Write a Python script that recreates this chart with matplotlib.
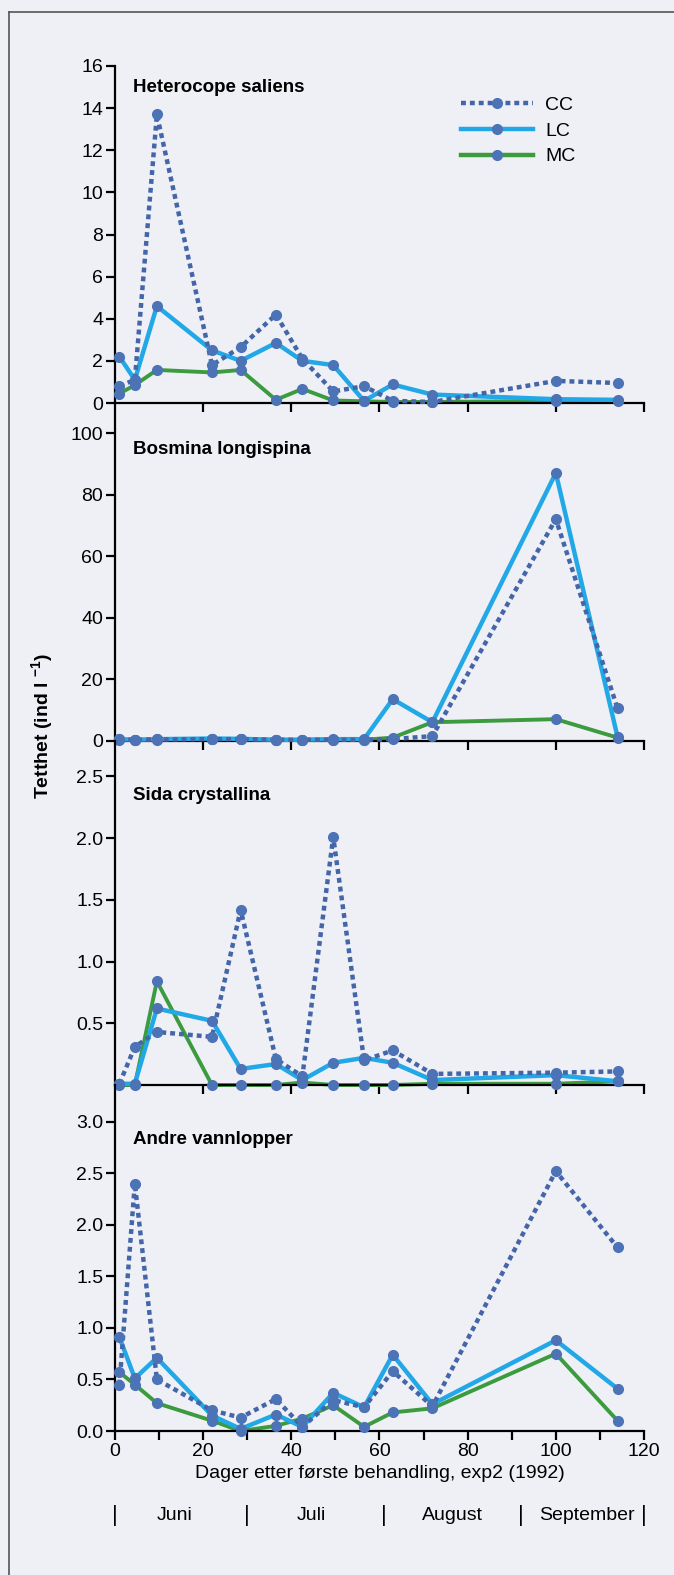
import numpy as np
import matplotlib
matplotlib.use("Agg")
import matplotlib.pyplot as plt
from matplotlib.lines import Line2D

plt.rcParams['font.family'] = ['Liberation Sans', 'DejaVu Sans']
plt.rcParams['mathtext.fontset'] = 'custom'
plt.rcParams['mathtext.rm'] = 'Liberation Sans'
plt.rcParams['mathtext.bf'] = 'Liberation Sans:bold'

# dager etter første behandling
dager = [1, 4.5, 9.5, 22, 28.5, 36.5, 42.5, 49.5, 56.5, 63, 72, 100, 114]

# Heterocope saliens
het_cc = [0.8, 1.1, 13.7, 1.8, 2.65, 4.2, 2.1, 0.55, 0.8, 0.1, 0.05, 1.05, 0.95]
het_lc = [2.2, 1.1, 4.6, 2.5, 2.0, 2.85, 2.0, 1.8, 0.1, 0.88, 0.4, 0.18, 0.15]
het_mc = [0.45, 0.85, 1.57, 1.45, 1.57, 0.15, 0.67, 0.12, 0.08, 0.05, 0.05, 0.1, 0.1]

# Bosmina longispina
bos_cc = [0.4, 0.3, 0.4, 0.5, 0.5, 0.3, 0.3, 0.3, 0.3, 0.5, 1.5, 72, 10.5]
bos_lc = [0.5, 0.3, 0.5, 0.7, 0.6, 0.3, 0.3, 0.5, 0.5, 13.5, 6.0, 87, 1.2]
bos_mc = [0.3, 0.3, 0.3, 0.4, 0.4, 0.3, 0.3, 0.3, 0.3, 1.0, 6.0, 7.0, 1.0]

# Sida crystallina
sida_cc = [0.01, 0.31, 0.43, 0.39, 1.42, 0.21, 0.07, 2.01, 0.2, 0.28, 0.09, 0.1, 0.11]
sida_lc = [0.01, 0.01, 0.62, 0.52, 0.13, 0.17, 0.04, 0.18, 0.22, 0.18, 0.04, 0.08, 0.03]
sida_mc = [0.0, 0.0, 0.84, 0.0, 0.0, 0.0, 0.02, 0.0, 0.0, 0.0, 0.01, 0.01, 0.03]

# Andre vannlopper
andre_cc = [0.45, 2.4, 0.5, 0.2, 0.13, 0.31, 0.04, 0.3, 0.23, 0.58, 0.24, 2.52, 1.78]
andre_lc = [0.91, 0.51, 0.71, 0.15, 0.02, 0.16, 0.04, 0.37, 0.23, 0.74, 0.26, 0.88, 0.41]
andre_mc = [0.57, 0.45, 0.27, 0.1, 0.0, 0.05, 0.12, 0.25, 0.04, 0.18, 0.22, 0.75, 0.1]

titler = ["Heterocope saliens", "Bosmina longispina", "Sida crystallina", "Andre vannlopper"]
maaneder = ["Juni", "Juli", "August", "September"]
maaned_midt = [13.5, 44.5, 76.5, 107]
maaned_grenser = [0, 30, 61, 92, 120]

bg = '#eff0f6'
farge_cc = '#4466a8'
farge_lc = '#22a8e6'
farge_mc = '#3b9b3e'
farge_pkt = '#4c73b6'

W, H = 674, 1575
fig = plt.figure(figsize=(W / 100, H / 100), dpi=100, facecolor=bg)

venstre = 115 / W
bredde = (644 - 115) / W
# (topp, bunn) i piksler
paneler = [(66, 403), (403, 740.7), (740.7, 1085), (1085, 1431)]
ylims = [(0, 16), (0, 109.75), (0, 2.79), (0, 3.356)]
yticks = [np.arange(0, 17, 2), np.arange(0, 101, 20),
          [0.5, 1.0, 1.5, 2.0, 2.5], np.arange(0, 3.01, 0.5)]
data = [(het_cc, het_lc, het_mc), (bos_cc, bos_lc, bos_mc),
        (sida_cc, sida_lc, sida_mc), (andre_cc, andre_lc, andre_mc)]
tittel_y = [88, 450, 795, 1139]

axes = []
for i in range(4):
    topp, bunn = paneler[i]
    ax = fig.add_axes([venstre, 1 - bunn / H, bredde, (bunn - topp) / H])
    ax.patch.set_alpha(0)
    cc, lc, mc = data[i]
    ax.plot(dager, mc, color=farge_mc, lw=2.8, clip_on=False, zorder=2)
    ax.plot(dager, lc, color=farge_lc, lw=3.2, clip_on=False, zorder=3)
    ax.plot(dager, cc, color=farge_cc, lw=3.2, ls=(0, (1.1, 0.9)),
            dash_capstyle='butt', clip_on=False, zorder=4)
    for s in (mc, lc, cc):
        ax.plot(dager, s, ls='none', marker='o', ms=7, color=farge_pkt,
                clip_on=False, zorder=5)
    ax.set_xlim(0, 120)
    ax.set_ylim(*ylims[i])
    ax.set_yticks(yticks[i])
    for side in ('top', 'right'):
        ax.spines[side].set_visible(False)
    for side in ('left', 'bottom'):
        ax.spines[side].set_linewidth(1.6)
    ax.tick_params(axis='both', direction='out', length=6.5, width=1.6,
                   labelsize=14, pad=2)
    if i < 3:
        ax.set_xticks(np.arange(20, 121, 20))
        ax.set_xticklabels([])
    else:
        ax.set_xticks(np.arange(0, 121, 10))
        ax.set_xticklabels([str(t) if t % 20 == 0 else '' for t in range(0, 121, 10)])
        ax.set_yticklabels(['%.1f' % t for t in yticks[i]])
    ty = (bunn - tittel_y[i]) / (bunn - topp)
    ax.text((133 - 115) / (644 - 115), ty, titler[i], transform=ax.transAxes,
            ha='left', va='center', fontsize=13.5, fontweight='bold')
    axes.append(ax)

ax1 = axes[0]
handles = [Line2D([], [], color=farge_cc, lw=3.2, ls=(0, (1.1, 0.9)), marker='o',
                  ms=7, mfc=farge_pkt, mec=farge_pkt),
           Line2D([], [], color=farge_lc, lw=3.2, marker='o', ms=7,
                  mfc=farge_pkt, mec=farge_pkt),
           Line2D([], [], color=farge_mc, lw=3.2, marker='o', ms=7,
                  mfc=farge_pkt, mec=farge_pkt)]
ax1.legend(handles, ['CC', 'LC', 'MC'], loc='upper left',
           bbox_to_anchor=(0.655, 0.91), frameon=False, fontsize=14,
           handlelength=3.7, handletextpad=0.6, labelspacing=0.42,
           borderpad=0, borderaxespad=0, numpoints=1)

ax4 = axes[3]
ax4.set_xlabel("Dager etter første behandling, exp2 (1992)", fontsize=14, labelpad=4)
trans = ax4.get_xaxis_transform()
for d in maaned_grenser:
    ax4.text(d, -0.243, '|', transform=trans, ha='center', va='center', fontsize=16)
for navn, d in zip(maaneder, maaned_midt):
    ax4.text(d, -0.243, navn, transform=trans, ha='center', va='center', fontsize=14)

fig.text(43 / W, 1 - 726 / H, r'Tetthet (ind l $^{\mathbf{-1}}$)', rotation=90,
         ha='center', va='center', fontsize=14, fontweight='bold')

# sidekant fra skanningen
fig.add_artist(Line2D([9 / W, 9 / W], [0, 1 - 12 / H], transform=fig.transFigure,
                      color='#555555', lw=1.2))
fig.add_artist(Line2D([9 / W, 1], [1 - 12 / H, 1 - 12 / H], transform=fig.transFigure,
                      color='#555555', lw=1.2))

fig.savefig("out.png", dpi=100, facecolor=bg)
